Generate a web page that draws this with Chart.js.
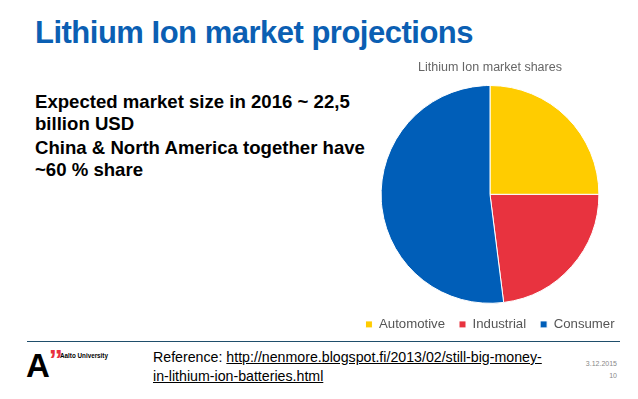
<!DOCTYPE html>
<html>
<head>
<meta charset="utf-8">
<script src="https://cdn.jsdelivr.net/npm/chart.js@4"></script>
<style>
  body { margin: 0; width: 638px; height: 399px; background: #fff; font-family: "Liberation Sans", Arial, sans-serif; position: relative; overflow: hidden; }
  .title { position: absolute; left: 35px; top: 15px; font-size: 31px; font-weight: bold; color: #0b5fb3; letter-spacing: -0.5px; }
  .body { position: absolute; left: 35px; top: 91px; font-size: 18.6px; font-weight: bold; color: #000; line-height: 22px; }
  .body p { margin: 0 0 2px 0; }
  .chartbox { position: absolute; left: 345px; top: 55px; width: 290px; height: 286px; }
  .rule { position: absolute; left: 27px; top: 341px; width: 593px; height: 1px; background: #1f4e6b; }
  .logo { position: absolute; left: 26px; top: 347px; font-size: 33px; font-weight: bold; color: #000; }
  .logo span { color: #e8313f; font-size: 28px; position: relative; top: -8px; margin-left: -1px; }
  .uni { position: absolute; left: 60px; top: 352px; font-size: 6.3px; font-weight: bold; }
  .ref { position: absolute; left: 153px; top: 348px; font-size: 14.2px; line-height: 19px; color: #000; }
  .ref a { color: #000; }
  .date { position: absolute; right: 21px; top: 358px; font-size: 7px; color: #888; text-align: right; line-height: 12px; }
</style>
</head>
<body>
<div class="title">Lithium Ion market projections</div>
<div class="body">
  <p>Expected market size in 2016 ~ 22,5<br>billion USD</p>
  <p>China &amp; North America together have<br>~60 % share</p>
</div>
<div class="chartbox"><canvas id="pie"></canvas></div>
<div class="rule"></div>
<div class="logo">A<span>”</span></div>
<div class="uni">Aalto University</div>
<div class="ref">Reference: <a href="#">http://nenmore.blogspot.fi/2013/02/still-big-money-<br>in-lithium-ion-batteries.html</a></div>
<div class="date">3.12.2015<br>10</div>
<script>
var labels = ['Automotive', 'Industrial', 'Consumer'];
var shares = [25, 23, 52];
var sliceColors = ['#ffcc00', '#e8333f', '#005eb8'];

new Chart(document.getElementById('pie'), {
    type: 'pie',
    data: {
        labels: labels,
        datasets: [{ data: shares, backgroundColor: sliceColors, borderColor: '#fff', borderWidth: 1 }]
    },
    options: {
        responsive: true, maintainAspectRatio: false, animation: false,
        layout: { padding: { top: 0, bottom: 0, left: 0, right: 0 } },
        plugins: {
            title: { display: true, text: 'Lithium Ion market shares', color: '#666', font: { size: 12.5, weight: 'normal', family: 'Liberation Sans' }, padding: { top: 5, bottom: 10 } },
            legend: { position: 'bottom', labels: { boxWidth: 7, boxHeight: 7, color: '#555', padding: 14, font: { size: 13.2, family: 'Liberation Sans' } } },
            tooltip: { enabled: false }
        }
    }
});
</script>
</body>
</html>
